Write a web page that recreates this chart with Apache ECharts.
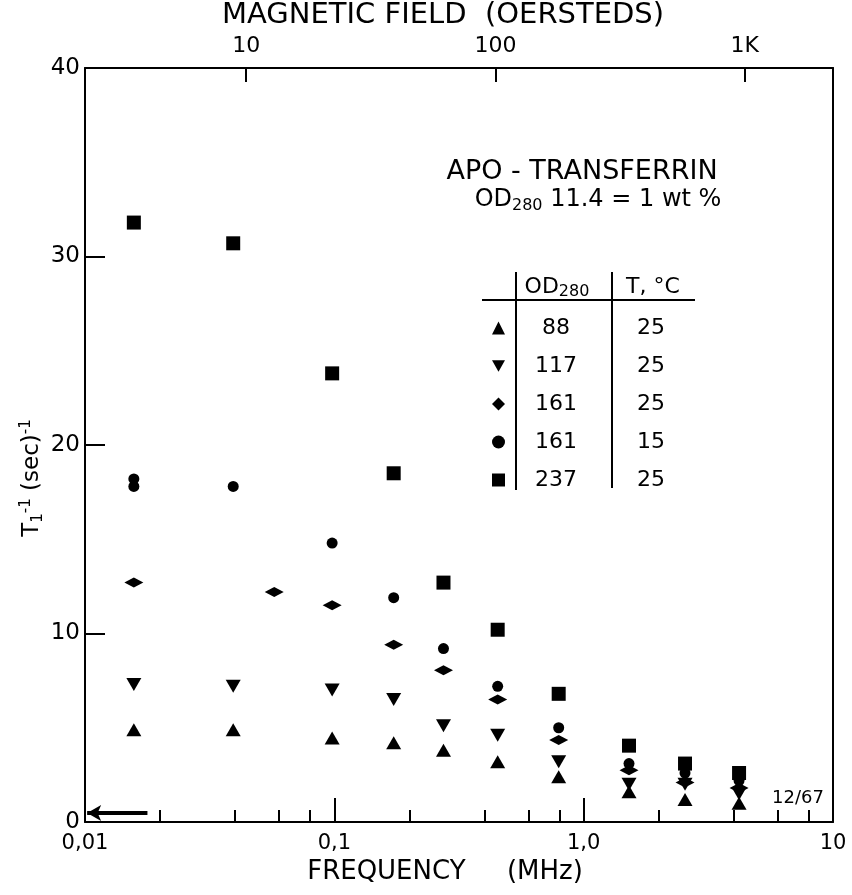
<!DOCTYPE html>
<html lang="en">
<head>
    <meta charset="utf-8">
    <title>apo-transferrin</title>
    <script src="https://cdn.jsdelivr.net/npm/echarts@6/dist/echarts.min.js"></script>
    <style>
        body { margin: 0; background: #fff; }
        #chart { width: 852px; height: 895px; }
    </style>
</head>
<body>
<div id="chart"></div>
<script>
    // frequency columns (MHz)
    var freq = [0.0157, 0.0393, 0.098, 0.173, 0.274, 0.452, 0.794, 1.52, 2.55, 4.2];
    // T1^-1 (sec^-1) for each sample
    var od88 = [4.9, 4.9, 4.45, 4.2, 3.8, 3.2, 2.4, 1.6, 1.2, 1.0];
    var od117 = [7.3, 7.2, 7.0, 6.5, 5.1, 4.6, 3.2, 2.0, 2.0, 1.5];
    var od161Freq = [0.0157, 0.0574, 0.098, 0.173, 0.274, 0.452, 0.794, 1.52, 2.55, 4.2];
    var od161 = [12.7, 12.2, 11.5, 9.4, 8.05, 6.5, 4.35, 2.75, 2.1, 1.8];
    var od161cFreq = [0.0157, 0.0157, 0.0393, 0.098, 0.173, 0.274, 0.452, 0.794, 1.52, 2.55, 4.2];
    var od161c = [18.2, 17.8, 17.8, 14.8, 11.9, 9.2, 7.2, 5.0, 3.1, 2.6, 2.2];
    var od237 = [31.8, 30.7, 23.8, 18.5, 12.7, 10.2, 6.8, 4.05, 3.1, 2.6];

    var odLabels = ['88', '117', '161', '161', '237'];
    var tempLabels = ['25', '25', '25', '15', '25'];
    var seriesNames = ['OD 88 / 25', 'OD 117 / 25', 'OD 161 / 25', 'OD 161 / 15', 'OD 237 / 25'];

    var freqTicks = [0.01, 0.1, 1, 10];
    var freqTickLabels = ['0,01', '0,1', '1,0', '10'];
    var freqMinor = [0.02, 0.04, 0.06, 0.08, 0.2, 0.4, 0.6, 0.8, 2, 4, 6, 8];
    var fieldTicks = [0.0443, 0.443, 4.43];  // frequency of 10, 100, 1000 Oe
    var fieldTickLabels = ['10', '100', '1K'];

    var arrowFreq = [0.0178, 0.0102];
    var arrowRate = 0.48;

    var FONT = 'DejaVu Sans';
    var INK = '#000';

    function pairs(xs, ys) {
        return ys.map(function (y, i) { return [xs[i], y]; });
    }

    function pickLabel(ticks, labels) {
        return function (v) {
            var i = ticks.findIndex(function (t) { return Math.abs(Math.log10(t) - Math.log10(v)) < 0.01; });
            return i >= 0 ? labels[i] : '';
        };
    }

    var chart = echarts.init(document.getElementById('chart'));

    function dot(name, symbol, size, xs, ys) {
        return {
            name: name,
            type: 'scatter',
            xAxisIndex: 0,
            yAxisIndex: 0,
            symbol: symbol,
            symbolSize: size,
            itemStyle: { color: INK, opacity: 1 },
            data: pairs(xs, ys),
            z: 5
        };
    }

    chart.setOption({
        animation: false,
        backgroundColor: '#fff',
        textStyle: { fontFamily: FONT, color: INK },
        grid: { left: 85, right: 19, top: 68, bottom: 73, outerBoundsMode: 'none', containLabel: false },
        xAxis: [
            {
                type: 'log', logBase: 10, min: 0.01, max: 10, position: 'bottom',
                name: 'FREQUENCY     (MHz)', nameLocation: 'middle', nameGap: 32,
                nameTextStyle: { fontSize: 26, fontFamily: FONT, color: INK, padding: [0, 28, 0, 0] },
                axisLine: { lineStyle: { color: INK, width: 2 } },
                axisTick: { inside: true, length: 24, customValues: [0.1, 1], lineStyle: { color: INK, width: 2 } },
                axisLabel: {
                    customValues: freqTicks, fontSize: 21, fontFamily: FONT, color: INK, margin: 11,
                    formatter: pickLabel(freqTicks, freqTickLabels)
                },
                splitLine: { show: false }, minorTick: { show: false }
            },
            {
                type: 'log', logBase: 10, min: 0.01, max: 10, position: 'bottom',
                axisLine: { show: false },
                axisTick: { inside: true, length: 12, customValues: freqMinor, lineStyle: { color: INK, width: 2 } },
                axisLabel: { show: false },
                splitLine: { show: false }
            },
            {
                type: 'log', logBase: 10, min: 0.01, max: 10, position: 'top',
                name: 'MAGNETIC FIELD  (OERSTEDS)', nameLocation: 'middle', nameGap: 33,
                nameTextStyle: { fontSize: 29, fontFamily: FONT, color: INK, padding: [0, 32, 0, 0] },
                axisLine: { lineStyle: { color: INK, width: 2 } },
                axisTick: { inside: true, length: 14, customValues: fieldTicks, lineStyle: { color: INK, width: 2 } },
                axisLabel: {
                    customValues: fieldTicks, fontSize: 22, fontFamily: FONT, color: INK, margin: 11,
                    formatter: pickLabel(fieldTicks, fieldTickLabels)
                },
                splitLine: { show: false }
            }
        ],
        yAxis: [
            {
                type: 'value', min: 0, max: 40, interval: 10,
                axisLine: { show: true, lineStyle: { color: INK, width: 2 } },
                axisTick: { show: true, inside: true, length: 20, lineStyle: { color: INK, width: 2 } },
                axisLabel: { fontSize: 23, fontFamily: FONT, color: INK, margin: 5 },
                splitLine: { show: false }
            },
            {
                type: 'value', min: 0, max: 40, position: 'right',
                axisLine: { show: true, lineStyle: { color: INK, width: 2 } },
                axisTick: { show: false }, axisLabel: { show: false },
                splitLine: { show: false }
            }
        ],
        legend: {
            orient: 'vertical', left: 487, top: 311,
            itemWidth: 13, itemHeight: 13, itemGap: 14,
            selectedMode: false,
            data: seriesNames,
            textStyle: {
                fontSize: 22, lineHeight: 24, color: INK, fontFamily: FONT,
                rich: {
                    od: { width: 92, align: 'center', fontSize: 22, fontFamily: FONT, color: INK },
                    t: { width: 98, align: 'center', fontSize: 22, fontFamily: FONT, color: INK }
                }
            },
            formatter: function (name) {
                var i = seriesNames.indexOf(name);
                return '{od|' + odLabels[i] + '}{t|' + tempLabels[i] + '}';
            }
        },
        series: [
            dot(seriesNames[0], 'triangle', [15, 13], freq, od88),
            dot(seriesNames[1], 'path://M0,0 L10,0 L5,9 Z', [15, 13], freq, od117),
            dot(seriesNames[2], 'diamond', [19, 10], od161Freq, od161),
            dot(seriesNames[3], 'circle', 11, od161cFreq, od161c),
            dot(seriesNames[4], 'rect', 14, freq, od237),
            {
                type: 'line', xAxisIndex: 0, yAxisIndex: 0, data: [], silent: true,
                markLine: {
                    silent: true, symbol: ['none', 'arrow'], symbolSize: [12, 14],
                    label: { show: false },
                    lineStyle: { color: INK, width: 4, type: 'solid' },
                    data: [[{ coord: [arrowFreq[0], arrowRate] }, { coord: [arrowFreq[1], arrowRate] }]]
                }
            }
        ],
        graphic: [
            {
                type: 'text', x: 582, y: 172,
                style: { text: 'APO - TRANSFERRIN', fontFamily: FONT, fontSize: 27, fill: INK, align: 'center', verticalAlign: 'middle' }
            },
            {
                type: 'text', x: 598, y: 200,
                style: {
                    text: 'OD{s|280} 11.4 = 1 wt %', fill: INK, align: 'center', verticalAlign: 'middle',
                    fontFamily: FONT, fontSize: 24,
                    rich: { s: { fontSize: 16, fontFamily: FONT, padding: [12, 0, 0, 0] } }
                }
            },
            {
                type: 'text', x: 557, y: 287,
                style: {
                    text: 'OD{s|280}', fill: INK, align: 'center', verticalAlign: 'middle',
                    fontFamily: FONT, fontSize: 22,
                    rich: { s: { fontSize: 16, fontFamily: FONT, padding: [10, 0, 0, 0] } }
                }
            },
            {
                type: 'text', x: 653, y: 287,
                style: { text: 'T, °C', fontFamily: FONT, fontSize: 22, fill: INK, align: 'center', verticalAlign: 'middle' }
            },
            { type: 'line', shape: { x1: 482, y1: 300, x2: 695, y2: 300 }, style: { stroke: INK, lineWidth: 2 } },
            { type: 'line', shape: { x1: 516, y1: 272, x2: 516, y2: 490 }, style: { stroke: INK, lineWidth: 2 } },
            { type: 'line', shape: { x1: 612, y1: 272, x2: 612, y2: 488 }, style: { stroke: INK, lineWidth: 2 } },
            {
                type: 'text', x: 32, y: 478, rotation: Math.PI / 2,
                style: {
                    text: 'T{sub|1}{sup|-1} (sec){sup|-1}', fill: INK, align: 'center', verticalAlign: 'middle',
                    fontFamily: FONT, fontSize: 23,
                    rich: {
                        sub: { fontSize: 15, fontFamily: FONT, padding: [12, 0, 0, 0] },
                        sup: { fontSize: 15, fontFamily: FONT, padding: [0, 0, 12, 0] }
                    }
                }
            },
            {
                type: 'text', x: 772, y: 798,
                style: { text: '12/67', fontFamily: FONT, fontSize: 18, fill: INK, verticalAlign: 'middle' }
            }
        ]
    });
</script>
</body>
</html>
